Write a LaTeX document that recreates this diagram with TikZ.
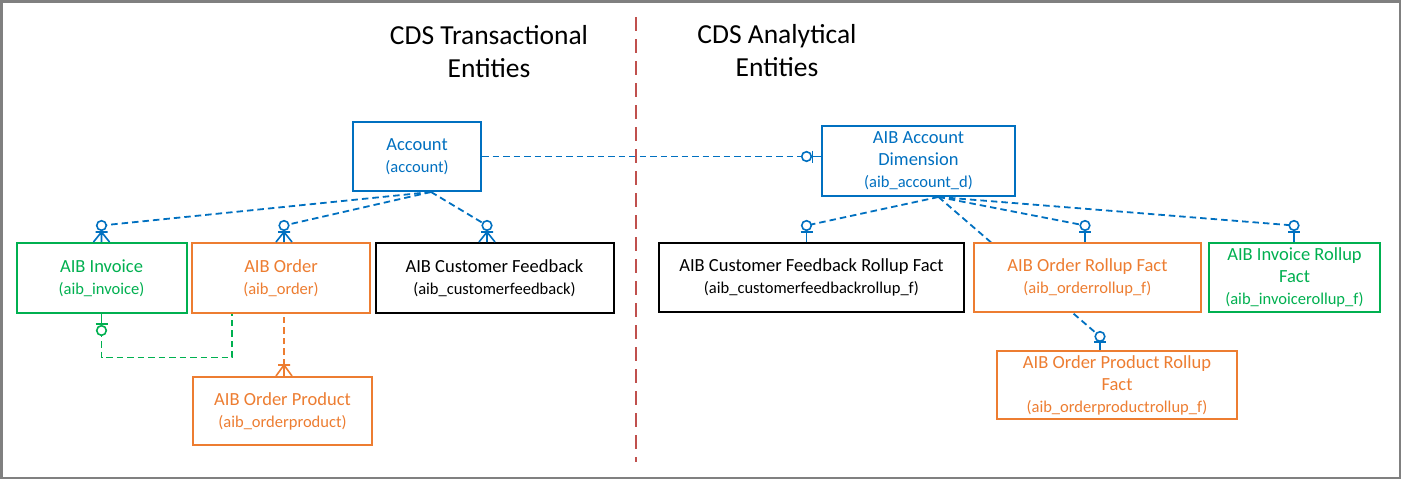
\documentclass[tikz,border=0pt]{standalone}
\usepackage{fontspec}
\setmainfont{Carlito}
\usetikzlibrary{backgrounds,calc}
\definecolor{cblue}{HTML}{0070C0}
\definecolor{cgreen}{HTML}{00B050}
\definecolor{corange}{HTML}{ED7D31}
\definecolor{cred}{HTML}{C0504D}
\definecolor{cgrey}{HTML}{808080}
\newcommand\subt[1]{{\fontsize{16.5}{22}\selectfont #1}}
\begin{document}
\begin{tikzpicture}[x=1pt,y=-1pt,
 ent/.style={draw, fill=white, line width=2pt, inner sep=0pt, align=center,
   font=\fontsize{18.5}{22}\selectfont},
 ttl/.style={align=center, inner sep=0pt, font=\fontsize{27.5}{33}\selectfont},
 rel/.style={line width=1.8pt, dash pattern=on 6.5pt off 4pt},
 mk/.style={line width=1.6pt},
 zoUp/.pic={\draw[solid] (0,0)--(0,-10) (-6,-10)--(6,-10);
   \draw[solid,fill=white] (0,-16.5) circle[radius=4.8pt];
   \coordinate (-c) at (0,-16.5);},
 zoUpS/.pic={\draw[solid] (0,0)--(0,-8) (-6,-8)--(6,-8);
   \draw[solid,fill=white] (0,-13.5) circle[radius=4.8pt];
   \coordinate (-c) at (0,-13.5);},
 zmUp/.pic={\draw[solid] (-8,0)--(0,-10)--(8,0) (0,0)--(0,-10) (-6,-10)--(6,-10);
   \draw[solid,fill=white] (0,-16.5) circle[radius=4.8pt];
   \coordinate (-c) at (0,-16.5);},
 omUp/.pic={\draw[solid] (-8,0)--(0,-11)--(8,0) (0,0)--(0,-11) (-6,-11)--(6,-11);
   \coordinate (-c) at (0,-11);},
 zoDown/.pic={\draw[solid] (0,0)--(0,10) (-6,10)--(6,10);
   \draw[solid,fill=white] (0,16.5) circle[radius=4.8pt];
   \coordinate (-c) at (0,16.5);},
 zoLeft/.pic={\draw[solid] (0,0)--(-8.5,0) (-8.5,-6)--(-8.5,6);
   \draw[solid,fill=white] (-14.5,0) circle[radius=4.8pt];
   \coordinate (-c) at (-14.5,0);},
]
\useasboundingbox (0,0) rectangle (1401,479);
\draw[cgrey, line width=2.5pt] (1.25,1.25) rectangle (1399.75,477.75);

% titles
\node[ttl] (t1) at (489,51.5) {CDS Transactional\\Entities};
\node[ttl] (t2) at (777,50.5) {CDS Analytical\\Entities};

% divider
\coordinate (dv1) at (636,17);
\coordinate (dv2) at (636,462);
\draw[cred, line width=2pt, dash pattern=on 14pt off 8pt] (dv1) -- (dv2);

% transactional entities
\node[ent, draw=cblue, text=cblue, minimum width=128pt, minimum height=69pt] (acc) at (417,156.5)
  {Account\\\subt{(account)}};
\node[ent, draw=cgreen, text=cgreen, minimum width=170pt, minimum height=70pt] (inv) at (101.5,278)
  {AIB Invoice\\\subt{(aib\_invoice)}};
\node[ent, draw=corange, text=corange, minimum width=178pt, minimum height=70pt] (ord) at (281,278)
  {AIB Order\\\subt{(aib\_order)}};
\node[ent, draw=black, text=black, minimum width=238pt, minimum height=70pt] (cf) at (494.5,278)
  {AIB Customer Feedback\\\subt{(aib\_customerfeedback)}};
\node[ent, draw=corange, text=corange, minimum width=179pt, minimum height=68pt] (op) at (282.5,411)
  {AIB Order Product\\\subt{(aib\_orderproduct)}};

% analytical entities
\node[ent, draw=cblue, text=cblue, minimum width=193pt, minimum height=70pt] (dim) at (918.5,161)
  {AIB Account\\Dimension\\\subt{(aib\_account\_d)}};
\node[ent, draw=black, text=black, minimum width=305pt, minimum height=69pt] (cfr) at (811.5,277.5)
  {AIB Customer Feedback Rollup Fact\\\subt{(aib\_customerfeedbackrollup\_f)}};
\node[ent, draw=corange, text=corange, minimum width=227pt, minimum height=69pt] (orr) at (1087.5,277.5)
  {AIB Order Rollup Fact\\\subt{(aib\_orderrollup\_f)}};
\node[ent, draw=cgreen, text=cgreen, minimum width=171pt, minimum height=69pt] (irr) at (1294.5,277.5)
  {AIB Invoice Rollup\\Fact\\\subt{(aib\_invoicerollup\_f)}};
\node[ent, draw=corange, text=corange, minimum width=240pt, minimum height=68pt] (oprr) at (1117,385)
  {AIB Order Product Rollup\\Fact\\\subt{(aib\_orderproductrollup\_f)}};

% markers
\pic[mk, color=cblue] (mI) at (inv.north) {zmUp};
\pic[mk, color=cblue] (mO) at ([xshift=3pt]ord.north) {zmUp};
\pic[mk, color=cblue] (mC) at ([xshift=-7.5pt]cf.north) {zmUp};
\pic[mk, color=cblue] (mD) at (acc.east -| dim.west) {zoLeft};
\pic[mk, color=cgreen] (mV) at (inv.south) {zoDown};
\pic[mk, color=corange] (mP) at ([xshift=1.5pt]op.north) {omUp};
\pic[mk, color=cblue] (mR1) at ([xshift=-5pt]cfr.north) {zoUp};
\pic[mk, color=cblue] (mR2) at ([xshift=-2.5pt]orr.north) {zoUp};
\pic[mk, color=cblue] (mR3) at ([xshift=-0.5pt]irr.north) {zoUp};
\pic[mk, color=cblue] (mR4) at ([xshift=-17pt]oprr.north) {zoUpS};

% connectors
\begin{pgfonlayer}{background}
\coordinate (acco) at ([xshift=14pt]acc.south);
\coordinate (dimo) at ([xshift=20pt]dim.south);
\coordinate (ordb) at ([xshift=41pt]ord.south west);
\draw[rel, cblue] (acc.east) -- (mD-c);
\draw[rel, cblue] (acco) -- (mI-c);
\draw[rel, cblue] (acco) -- (mO-c);
\draw[rel, cblue] (acco) -- (mC-c);
\draw[rel, cgreen] (mV-c) -- ++(0,27) -| (ordb);
\draw[rel, corange] (mP-c) -- (mP-c |- ord.south);
\draw[rel, cblue] (dimo) -- (mR1-c);
\draw[rel, cblue] (dimo) -- (mR2-c);
\draw[rel, cblue] (dimo) -- (mR3-c);
\draw[rel, cblue] (dimo) -- (mR4-c);
\end{pgfonlayer}
\end{tikzpicture}
\end{document}
